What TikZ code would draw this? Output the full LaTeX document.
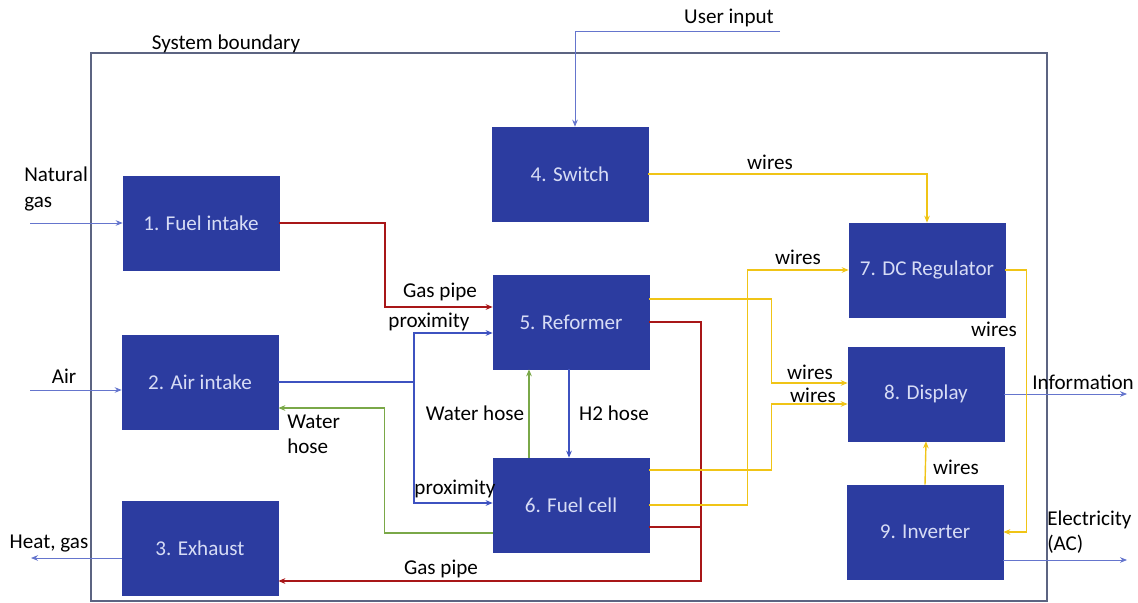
\documentclass[tikz,border=0pt]{standalone}
\usepackage{fontspec}
\setmainfont{Carlito}
\usepackage{xcolor}
\usetikzlibrary{positioning, arrows.meta, calc}

\definecolor{boxblue}{RGB}{44,60,160}
\definecolor{boxtext}{RGB}{215,220,245}
\definecolor{pipered}{RGB}{168,22,24}
\definecolor{linkblue}{RGB}{62,82,192}
\definecolor{hosegreen}{RGB}{122,168,72}
\definecolor{wireyellow}{RGB}{240,196,22}
\definecolor{boundgray}{RGB}{92,100,130}

\tikzset{
  block/.style={draw=boxblue, fill=boxblue, text=boxtext, minimum width=3.9cm, minimum height=2.35cm, inner sep=0pt},
  lbl/.style={inner sep=0pt, align=left},
  extflow/.style={->, linkblue!80, line width=0.6pt},
  gaspipe/.style={->, pipered, line width=1.6pt},
  proxline/.style={->, linkblue, line width=1pt},
  waterhose/.style={->, hosegreen, line width=1pt},
  wires/.style={->, wireyellow, line width=1pt}
}

\begin{document}
\begin{tikzpicture}[x=0.025cm, y=-0.025cm, >={Stealth[length=5pt,width=4pt]},
    every node/.style={font=\fontsize{15}{18}\selectfont}]
    \useasboundingbox (0,0) rectangle (1138,603);

    % --- SYSTEM BOUNDARY ---
    \draw[boundgray, line width=0.8pt] (91,53) rectangle (1047,601);
    \node[lbl] (sysb) at (226,44) {System boundary};

    % --- BLOCKS ---
    \node[block] (fuel)     at (201,223) {1. Fuel intake};
    \node[block] (air)      at (200,382) {2. Air intake};
    \node[block] (exhaust)  at (200,548) {3. Exhaust};
    \node[block] (switch)   at (570,174) {4. Switch};
    \node[block] (reformer) at (571,322) {5. Reformer};
    \node[block] (fuelcell) at (571,505) {6. Fuel cell};
    \node[block] (dcreg)    at (927,270) {7. DC Regulator};
    \node[block] (display)  at (926,394) {8. Display};
    \node[block] (inverter) at (925,532) {9. Inverter};

    % --- OUTSIDE FLOWS ---
    \coordinate (ngas) at (30,223);
    \coordinate (ain) at (30,390);
    \coordinate (hout) at (31,558);
    \coordinate (uin) at (780,31);
    \coordinate (info) at (1127,394);
    \coordinate (elec) at (1127,560);

    \draw[extflow] (ngas) -- (fuel.west);
    \draw[extflow] (ain) -- ($(air.west)+(0,8)$);
    \draw[extflow] ($(exhaust.west)+(0,10)$) -- (hout);
    \draw[extflow] (uin) -| ($(switch.north)+(5,0)$);
    \draw[extflow] (display.east) -- (info);
    \draw[extflow] ($(inverter.east)+(0,28)$) -- (elec);

    \node[lbl, anchor=west] (ngaslbl) at (24,189) {Natural\\gas};
    \node[lbl] (airlbl) at (64,376) {Air};
    \node[lbl] (heatlbl) at (49,544) {Heat, gas};
    \node[lbl] (uinlbl) at (729,18) {User input};
    \node[lbl] (infolbl) at (1083,382) {Information};
    \node[lbl, anchor=west] (eleclbl) at (1047,532) {Electricity\\ (AC)};

    % --- GAS PIPES ---
    \draw[gaspipe] (fuel.east) -| ($(reformer.west)+(-108,-15)$) -- ($(reformer.west)+(0,-15)$);
    \draw[gaspipe] (reformer.east) -| ($(exhaust.east)+(423,33)$) -- ($(exhaust.east)+(0,33)$);
    \draw[gaspipe, -] ($(fuelcell.east)+(0,22)$) -- ++(52,0);
    \node[lbl] (gp1) at (440,292) {Gas pipe};
    \node[lbl] (gp2) at (441,569) {Gas pipe};

    % --- PROXIMITY / HOSES ---
    \coordinate (airsplit) at (414,382);
    \draw[proxline, -] (air.east) -- (airsplit);
    \draw[proxline] (airsplit) |- ($(reformer.west)+(0,11)$);
    \draw[proxline] (airsplit) |- ($(fuelcell.west)+(0,-2)$);
    \node[lbl] (prox1) at (429,322) {proximity};
    \node[lbl] (prox2) at (455,489) {proximity};

    \draw[waterhose] ($(fuelcell.west)+(0,28)$) -| ($(air.east)+(106,26)$) -- ($(air.east)+(0,26)$);
    \draw[waterhose] ($(fuelcell.north)+(-42,0)$) -- ($(reformer.south)+(-42,0)$);
    \draw[proxline] ($(reformer.south)+(-2,0)$) -- ($(fuelcell.north)+(-2,0)$);
    \node[lbl, anchor=west] (wh1) at (287,434) {Water\\hose};
    \node[lbl] (wh2) at (475,413) {Water hose};
    \node[lbl] (h2) at (614,413) {H2 hose};

    % --- WIRES ---
    \draw[wires] (switch.east) -| (dcreg.north);
    \draw[wires] ($(reformer.east)+(0,-23)$) -| ($(display.west)+(-76,-11)$) -- ($(display.west)+(0,-11)$);
    \draw[wires] ($(fuelcell.east)+(0,-35)$) -| ($(display.west)+(-76,10)$) -- ($(display.west)+(0,10)$);
    \draw[wires] (fuelcell.east) -| ($(dcreg.west)+(-101,0)$) -- (dcreg.west);
    \draw[wires] (dcreg.east) -| ($(inverter.east)+(23,0)$) -- (inverter.east);
    \draw[wires] (inverter.north) -- (display.south);
    \node[lbl] (w1) at (770,162) {wires};
    \node[lbl] (w2) at (798,257) {wires};
    \node[lbl] (w3) at (810,372) {wires};
    \node[lbl] (w4) at (813,395) {wires};
    \node[lbl] (w5) at (994,329) {wires};
    \node[lbl] (w6) at (956,467) {wires};
\end{tikzpicture}
\end{document}
